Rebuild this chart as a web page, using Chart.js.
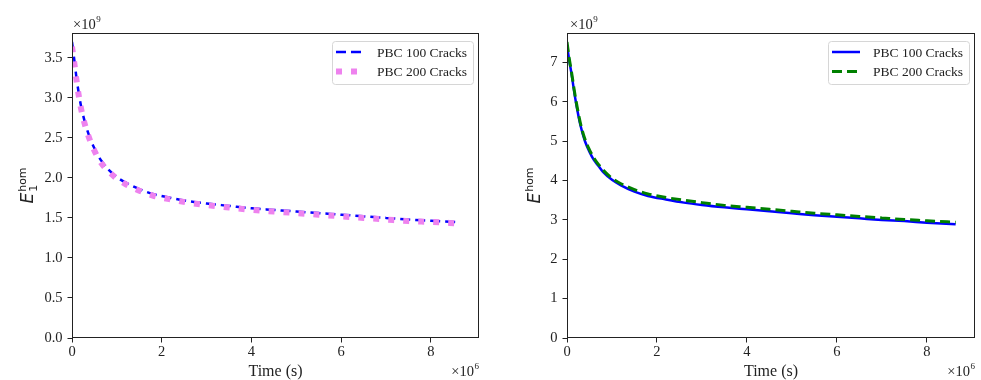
<!DOCTYPE html>
<html>
<head>
<meta charset="utf-8">
<script src="https://cdn.jsdelivr.net/npm/chart.js@4.4.1/dist/chart.umd.min.js"></script>
<style>
  html, body { margin: 0; padding: 0; background: #fff; }
  #wrap { position: relative; width: 981px; height: 380px; overflow: hidden; }
  canvas { position: absolute; top: 0; }
  #c1 { left: 0; }
  #c2 { left: 490px; }
</style>
</head>
<body>
<div id="wrap">
  <canvas id="c1" width="490" height="380"></canvas>
  <canvas id="c2" width="491" height="380"></canvas>
</div>
<script>
// ---------- data (x in units of 1e6 s, y in units of 1e9) ----------
const timeX = [0, 0.05, 0.1, 0.15, 0.2, 0.3, 0.4, 0.5, 0.6, 0.7, 0.8, 1.0, 1.2, 1.5, 1.8, 2.2, 2.6, 3.0, 3.5, 4.0, 4.5, 5.0, 5.5, 6.0, 6.5, 7.0, 7.5, 8.0, 8.64];

const left100 = [3.70, 3.48, 3.25, 3.06, 2.90, 2.67, 2.50, 2.37, 2.26, 2.18, 2.11, 2.01, 1.94, 1.86, 1.80, 1.75, 1.71, 1.68, 1.65, 1.62, 1.60, 1.58, 1.56, 1.54, 1.52, 1.50, 1.48, 1.465, 1.445];
const left200 = [3.64, 3.44, 3.22, 3.03, 2.87, 2.64, 2.47, 2.34, 2.23, 2.15, 2.09, 1.99, 1.92, 1.84, 1.78, 1.73, 1.69, 1.66, 1.63, 1.60, 1.58, 1.56, 1.54, 1.52, 1.50, 1.48, 1.46, 1.45, 1.43];

const right100 = [7.45, 7.05, 6.72, 6.33, 5.98, 5.40, 5.00, 4.73, 4.52, 4.37, 4.22, 4.02, 3.88, 3.72, 3.61, 3.52, 3.44, 3.38, 3.32, 3.27, 3.22, 3.17, 3.12, 3.08, 3.04, 3.00, 2.97, 2.93, 2.89];
const right200 = [7.52, 7.10, 6.76, 6.38, 6.03, 5.45, 5.05, 4.78, 4.57, 4.41, 4.27, 4.06, 3.92, 3.77, 3.66, 3.57, 3.50, 3.44, 3.37, 3.32, 3.27, 3.22, 3.17, 3.13, 3.09, 3.05, 3.01, 2.98, 2.94];

const labels = ['PBC 100 Cracks', 'PBC 200 Cracks'];
const xTicks = [0, 2, 4, 6, 8];
const yTicksLeft = [0, 0.5, 1.0, 1.5, 2.0, 2.5, 3.0, 3.5];
const yTicksRight = [0, 1, 2, 3, 4, 5, 6, 7];
const xLabel = 'Time (s)';
const xExp = '6';
const yExp = '9';
// -------------------------------------------------------------------

const SERIF = "'Liberation Serif', 'Times New Roman', serif";
const SANS = "'DejaVu Sans', sans-serif";
const INK = '#222';

function pts(xs, ys) { return xs.map((x, i) => ({ x: x, y: ys[i] })); }

function overlayPlugin(opts) {
  return {
    id: 'overlay_' + opts.id,
    afterDatasetsDraw(chart) {
      const ctx = chart.ctx;
      const a = chart.chartArea;
      ctx.save();
      // frame
      ctx.strokeStyle = INK;
      ctx.lineWidth = 1;
      ctx.strokeRect(a.left + 0.5, a.top + 0.5, a.right - a.left - 1, a.bottom - a.top - 1);

      // legend
      ctx.font = '13.5px ' + SERIF;
      const ds = chart.data.datasets;
      let tw = 0;
      ds.forEach(d => { tw = Math.max(tw, ctx.measureText(d.label).width); });
      const sampleL = 28, padL = 4, gap = 13, padR = 6;
      const bw = padL + sampleL + gap + tw + padR;
      const bh = 43;
      const bx = a.right - 6 - bw;
      const by = a.top + 8;
      ctx.beginPath();
      if (ctx.roundRect) ctx.roundRect(bx + 0.5, by + 0.5, bw, bh, 3); else ctx.rect(bx + 0.5, by + 0.5, bw, bh);
      ctx.fillStyle = 'rgba(255,255,255,0.85)';
      ctx.fill();
      ctx.strokeStyle = '#d6d6d6';
      ctx.lineWidth = 1;
      ctx.stroke();
      ds.forEach((d, i) => {
        const cy = by + 11 + i * 19.5;
        ctx.save();
        ctx.strokeStyle = d.borderColor;
        ctx.lineWidth = d.borderWidth;
        ctx.setLineDash(d.borderDash || []);
        ctx.lineCap = 'butt';
        ctx.beginPath();
        ctx.moveTo(bx + padL, cy);
        ctx.lineTo(bx + padL + sampleL, cy);
        ctx.stroke();
        ctx.restore();
        ctx.fillStyle = INK;
        ctx.textBaseline = 'middle';
        ctx.textAlign = 'left';
        ctx.fillText(d.label, bx + padL + sampleL + gap, cy + 1);
      });

      // x axis title
      ctx.fillStyle = INK;
      ctx.font = '16px ' + SERIF;
      ctx.textAlign = 'center';
      ctx.textBaseline = 'alphabetic';
      ctx.fillText(xLabel, (a.left + a.right) / 2, 376);

      // x exponent (bottom right)
      ctx.font = '9px ' + SERIF;
      const supW = ctx.measureText(xExp).width;
      ctx.textAlign = 'right';
      ctx.fillText(xExp, a.right, 369);
      ctx.font = '14.5px ' + SERIF;
      ctx.fillText('\u00d710', a.right - supW - 0.5, 376);

      // y exponent (top left)
      ctx.textAlign = 'left';
      ctx.font = '14.5px ' + SERIF;
      const bW = ctx.measureText('\u00d710').width;
      ctx.fillText('\u00d710', a.left + opts.expDx, 29);
      ctx.font = '9px ' + SERIF;
      ctx.fillText(yExp, a.left + opts.expDx + bW + 0.5, 22);

      // y axis title (rotated), E with optional subscript and superscript
      const cx = opts.ylabX, cyy = (a.top + a.bottom) / 2;
      ctx.translate(cx, cyy);
      ctx.rotate(-Math.PI / 2);
      ctx.font = 'italic 17px ' + SANS;
      const eW = ctx.measureText('E').width;
      ctx.font = '11px ' + SANS;
      const supTxtW = ctx.measureText('hom').width;
      const subTxtW = opts.sub ? ctx.measureText(opts.sub).width : 0;
      const total = eW + 1 + Math.max(supTxtW, subTxtW);
      const x0 = -total / 2;
      ctx.textAlign = 'left';
      ctx.textBaseline = 'alphabetic';
      ctx.fillStyle = INK;
      ctx.font = 'italic 17px ' + SANS;
      ctx.fillText('E', x0, opts.base);
      ctx.font = '11px ' + SANS;
      ctx.fillText('hom', x0 + eW + 1, opts.base - 7);
      if (opts.sub) ctx.fillText(opts.sub, x0 + eW + 1, opts.base + 4);
      ctx.restore();
    }
  };
}

function buildChart(id, series, styles, yTicks, yMax, yFmt, yWidth, padRight, ov) {
  const datasets = series.map((s, i) => Object.assign({
    label: labels[i],
    data: pts(timeX, s),
    pointRadius: 0,
    fill: false,
    cubicInterpolationMode: 'monotone',
    order: series.length - i
  }, styles[i]));
  return new Chart(document.getElementById(id), {
    type: 'line',
    data: { datasets: datasets },
    options: {
      responsive: false,
      animation: false,
      devicePixelRatio: 1,
      layout: { padding: { top: 33, right: padRight, bottom: 0, left: 0 } },
      plugins: { legend: { display: false }, tooltip: { enabled: false } },
      scales: {
        x: {
          type: 'linear', min: 0, max: 9.07,
          afterBuildTicks: s => { s.ticks = xTicks.map(v => ({ value: v })); },
          afterFit: s => { s.height = 42; },
          ticks: { font: { family: SERIF, size: 14.5 }, color: INK, padding: 1, maxRotation: 0, autoSkip: false,
                   callback: v => String(v) },
          grid: { display: true, drawOnChartArea: false, drawTicks: true, tickLength: 4.5, color: INK, tickWidth: 1 },
          border: { display: false }
        },
        y: {
          type: 'linear', min: 0, max: yMax,
          afterBuildTicks: s => { s.ticks = yTicks.map(v => ({ value: v })); },
          afterFit: s => { s.width = yWidth; },
          ticks: { font: { family: SERIF, size: 14.5 }, color: INK, padding: 5, autoSkip: false,
                   callback: yFmt },
          grid: { display: true, drawOnChartArea: false, drawTicks: true, tickLength: 4.5, color: INK, tickWidth: 1 },
          border: { display: false }
        }
      }
    },
    plugins: [overlayPlugin(ov)]
  });
}

buildChart('c1', [left100, left200],
  [
    { borderColor: '#0000ff', borderWidth: 2.5, borderDash: [10, 5] },
    { borderColor: '#ee82ee', borderWidth: 6, borderDash: [6, 9] }
  ],
  yTicksLeft, 3.81, v => Number(v).toFixed(1), 72, 11,
  { id: 'l', expDx: 1, ylabX: 28, base: 5, sub: '1' });

buildChart('c2', [right100, right200],
  [
    { borderColor: '#0000ff', borderWidth: 2.5, borderDash: [] },
    { borderColor: '#008000', borderWidth: 3, borderDash: [10, 5] }
  ],
  yTicksRight, 7.75, v => String(v), 77, 6,
  { id: 'r', expDx: 3, ylabX: 44, base: 6, sub: null });
</script>
</body>
</html>
